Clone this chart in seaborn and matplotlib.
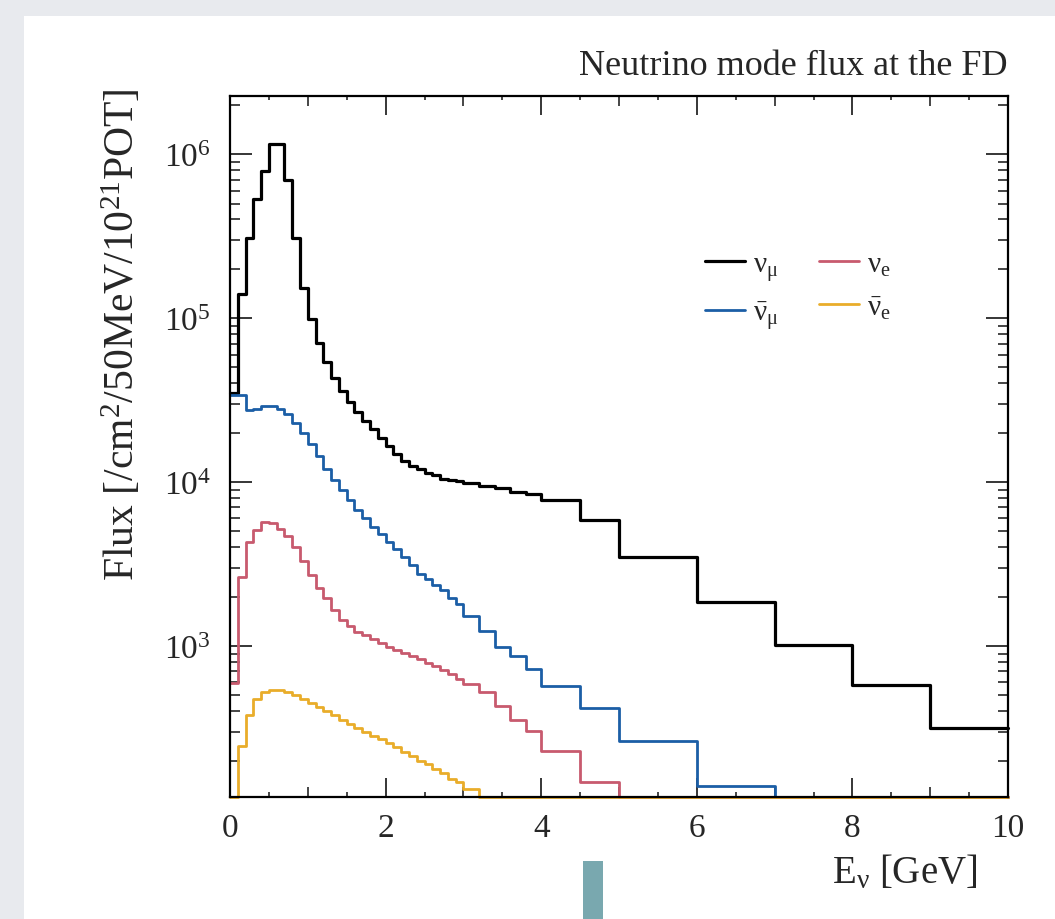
import matplotlib
matplotlib.use("Agg")
import matplotlib.pyplot as plt
from matplotlib.patches import Rectangle
from matplotlib.ticker import FixedLocator, LogLocator, NullFormatter
import numpy as np
import pandas as pd
import seaborn as sns

# DATA (flux per bin)
edges = [0.0, 0.1, 0.2, 0.3, 0.4, 0.5, 0.6, 0.7, 0.8, 0.9,
         1.0, 1.1, 1.2, 1.3, 1.4, 1.5, 1.6, 1.7, 1.8, 1.9,
         2.0, 2.1, 2.2, 2.3, 2.4, 2.5, 2.6, 2.7, 2.8, 2.9,
         3.0, 3.2, 3.4, 3.6, 3.8, 4.0, 4.5, 5.0, 6.0, 7.0, 8.0, 9.0, 10.0]

numu = [3.5e4, 1.40e5, 3.1e5, 5.3e5, 7.9e5, 1.15e6, 1.15e6, 7.0e5, 3.1e5, 1.52e5,
        9.9e4, 7.1e4, 5.4e4, 4.3e4, 3.6e4, 3.1e4, 2.66e4, 2.36e4, 2.1e4, 1.87e4,
        1.66e4, 1.48e4, 1.35e4, 1.26e4, 1.2e4, 1.14e4, 1.1e4, 1.05e4, 1.03e4, 1.01e4,
        9.9e3, 9.5e3, 9.2e3, 8.7e3, 8.5e3,
        7.8e3, 5.9e3,
        3.5e3, 1.86e3, 1.02e3, 578, 315]

numubar = [3.4e4, 3.4e4, 2.75e4, 2.8e4, 2.9e4, 2.9e4, 2.8e4, 2.6e4, 2.3e4, 2.0e4,
           1.7e4, 1.45e4, 1.2e4, 1.03e4, 9.0e3, 7.8e3, 6.8e3, 6.0e3, 5.3e3, 4.8e3,
           4.3e3, 3.9e3, 3.5e3, 3.1e3, 2.75e3, 2.55e3, 2.35e3, 2.2e3, 1.95e3, 1.8e3,
           1.53e3, 1.24e3, 990, 870, 724,
           573, 419,
           262, 141, 0, 0, 0]

nue = [595, 2.64e3, 4.3e3, 5.1e3, 5.7e3, 5.6e3, 5.2e3, 4.7e3, 4.0e3, 3.3e3,
       2.7e3, 2.25e3, 1.95e3, 1.65e3, 1.45e3, 1.32e3, 1.22e3, 1.16e3, 1.1e3, 1.04e3,
       990, 950, 910, 870, 830, 790, 755, 715, 675, 630,
       586, 521, 430, 356, 305,
       228, 148,
       0, 0, 0, 0, 0]

nuebar = [0, 245, 377, 475, 521, 542, 540, 525, 500, 475,
          450, 422, 400, 377, 355, 335, 315, 298, 284, 271,
          256, 241, 227, 214, 200, 190, 178, 168, 155, 148,
          134, 0, 0, 0, 0,
          0, 0,
          0, 0, 0, 0, 0]

labels = [r"$\nu_{\mu}$", r"$\bar{\nu}_{\mu}$", r"$\nu_{e}$", r"$\bar{\nu}_{e}$"]
colors = ["#000000", "#1b5ea6", "#c85a6e", "#e9ad2a"]

YMIN, YMAX = 120, 2.28e6

# STYLE
sns.set_theme(style="ticks")
plt.rcParams["font.family"] = ["Liberation Serif", "DejaVu Serif"]
plt.rcParams["mathtext.fontset"] = "custom"
plt.rcParams["mathtext.rm"] = "Liberation Serif"
plt.rcParams["mathtext.it"] = "Liberation Serif"
plt.rcParams["mathtext.bf"] = "Liberation Serif:bold"

fig = plt.figure(figsize=(10.55, 9.2), dpi=100, facecolor="#e8eaee")
fig.add_artist(Rectangle((24 / 1055, 0), 1, 1 - 17 / 920, transform=fig.transFigure,
                         facecolor="white", edgecolor="none", zorder=-2))
fig.add_artist(Rectangle((583 / 1055, 0), 20 / 1055, 58 / 920, transform=fig.transFigure,
                         facecolor="#79a8af", edgecolor="none", zorder=-1))

ax = fig.add_axes([230 / 1055, 122 / 920, 778 / 1055, 701.5 / 920])

# HISTOGRAMS
e = np.array(edges)
centers = (e[:-1] + e[1:]) / 2
handles = []
for vals, col, lw in zip([numu, numubar, nue, nuebar], colors, [2.3, 2.0, 2.0, 2.0]):
    df = pd.DataFrame({"energy": centers, "flux": np.clip(vals, YMIN, None)})
    n_before = len(ax.lines)
    sns.histplot(data=df, x="energy", weights="flux", bins=edges, element="step",
                 fill=False, color=col, linewidth=lw, ax=ax, clip_on=False)
    handles.append(ax.lines[n_before])

ax.set_yscale("log")
ax.set_xlim(0, 10)
ax.set_ylim(YMIN, YMAX)
ax.set_xlabel("")
ax.set_ylabel("")

# TICKS
ax.set_xticks([0, 2, 4, 6, 8, 10])
ax.xaxis.set_minor_locator(FixedLocator([1, 3, 5, 7, 9]))
ax.yaxis.set_major_locator(LogLocator(base=10))
ax.yaxis.set_minor_locator(LogLocator(base=10, subs=range(2, 10), numticks=20))
ax.yaxis.set_minor_formatter(NullFormatter())
ax.tick_params(axis="x", which="major", direction="in", length=14, width=1.3,
               top=True, bottom=True, labelsize=24, pad=11)
ax.tick_params(axis="x", which="minor", direction="in", length=7, width=1.2,
               top=True, bottom=True)
ax.tick_params(axis="y", which="major", direction="in", length=16, width=1.3,
               left=True, right=True, labelsize=24, pad=14)
ax.tick_params(axis="y", which="minor", direction="in", length=7, width=1.2,
               left=True, right=True)
for side in ["bottom", "top"]:
    sec = ax.secondary_xaxis(side)
    sec.set_xticks([0.5, 1.5, 2.5, 3.5, 4.5, 5.5, 6.5, 7.5, 8.5, 9.5])
    sec.tick_params(direction="in", length=3.5, width=1.2,
                    labelbottom=False, labeltop=False)
    for sp in sec.spines.values():
        sp.set_visible(False)
for sp in ax.spines.values():
    sp.set_visible(True)
    sp.set_linewidth(1.6)
    sp.set_color("black")

# LEGEND
ax.legend([handles[0], handles[1], handles[2], handles[3]], labels, ncol=2,
          loc="upper left", bbox_to_anchor=(0.6105, 0.778), frameon=False,
          fontsize=21, handlelength=1.37, handletextpad=0.27, columnspacing=1.4,
          labelspacing=0.55, borderpad=0, borderaxespad=0)

# TEXT
fig.text(1008 / 1055, 1 - 75 / 920, "Neutrino mode flux at the FD",
         ha="right", va="baseline", fontsize=26)
fig.text(977 / 1055, 1 - 883 / 920, r"E$_{\nu}$ [GeV]",
         ha="right", va="baseline", fontsize=28)
fig.text(134 / 1055, 1 - 88 / 920, r"Flux [/cm$^{2}$/50MeV/10$^{21}$POT]",
         rotation=90, rotation_mode="anchor", ha="right", va="baseline", fontsize=30)

fig.savefig("out.png", dpi=100, facecolor=fig.get_facecolor())
